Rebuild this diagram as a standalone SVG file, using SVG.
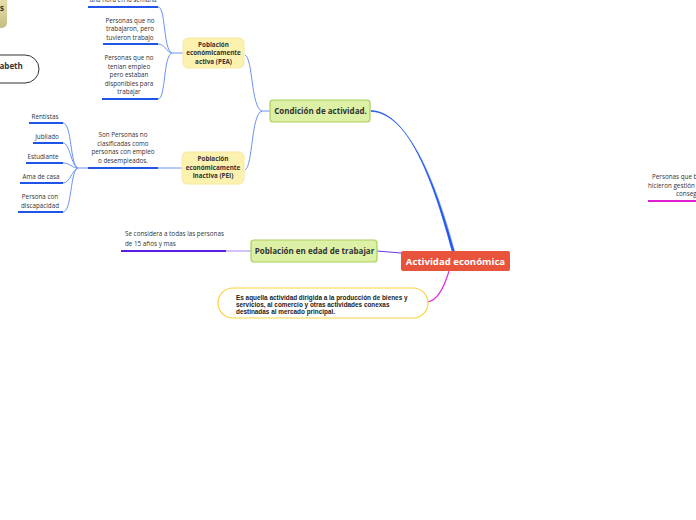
<svg xmlns="http://www.w3.org/2000/svg" width="696" height="520" viewBox="0 0 696 520">
<style>
.t{font-family:"Open Sans","Liberation Sans",sans-serif;font-size:6.3px;fill:#333;text-anchor:middle}
.tb{font-family:"Open Sans","Liberation Sans",sans-serif;font-size:6.3px;font-weight:bold;fill:#333;text-anchor:middle}
.c{fill:none;stroke:#6b93f5;stroke-width:1}
.u{fill:none;stroke:#1f55e6;stroke-width:2}
.y{fill:#fdf1b0;stroke:#f7e9a0;stroke-width:1}
.g{fill:#dcf1a6;stroke:#a9cd5e;stroke-width:1.2}
.gt{font-family:"Open Sans","Liberation Sans",sans-serif;font-weight:bold;fill:#333;text-anchor:middle}
.d{font-family:"Liberation Sans",Arial,sans-serif;font-size:6.4px;font-weight:bold;fill:#222}
</style>
<defs>
<linearGradient id="gr" x1="0" y1="0" x2="0" y2="1">
<stop offset="0" stop-color="#f0eab8"/>
<stop offset="1" stop-color="#c4bd84"/>
</linearGradient>
</defs>
<rect width="696" height="520" fill="#ffffff"/>
<g id="connectors">
<path class="c" d="M158 7 C166 7 163 50 172 53 M158 44 C165 44 166 52 172 53 M158 99 C166 99 163 56 172 53 L183 53"/>
<path class="c" d="M245 55 C253 58 251 108 262 111 L270 111 M262 111 C251 114 253 166 245 170"/>
<path class="c" d="M158 168 L182 168"/>
<path class="c" d="M63 123 C72 123 70 166 78 168 M63 143 C70 143 71 166 78 168 M63 163 C70 163 72 168 78 168 M63 183 C70 183 72 170 78 168 M63 212 C72 212 70 170 78 168 L88 168"/>
<path d="M371 110.6 C410 111.6 435.8 190 452 251 L454.4 251 C437.8 190 410.2 112.4 371 111.4 Z" fill="#2258f0" stroke="#2258f0" stroke-width="0.6" stroke-linejoin="round"/>
<path d="M226 251 L251 251" fill="none" stroke="#a583f5" stroke-width="1"/>
<path d="M377 251 L401 253" fill="none" stroke="#6a38ee" stroke-width="1.2"/>
<path d="M449 271 C444 288 438 300 428 302" fill="none" stroke="#e02de0" stroke-width="1.2"/>
</g>
<g id="n-top">
<rect x="-20" y="-10" width="27" height="38" rx="5" fill="url(#gr)"/>
<text x="0" y="11" font-family="'Open Sans','Liberation Sans',sans-serif" font-size="8" font-weight="bold" fill="#333">s</text>
</g>
<g id="n-abeth">
<rect x="-40" y="55" width="79" height="28" rx="14" fill="#fff" stroke="#333" stroke-width="1"/>
<text x="-0.5" y="68.5" font-family="'Open Sans','Liberation Sans',sans-serif" font-size="8" font-weight="bold" fill="#333">abeth</text>
</g>
<g id="n-pea">
<rect class="y" x="183" y="38" width="61" height="30" rx="5"/>
<text class="tb" x="213.5" y="46.5">Población</text>
<text class="tb" x="213.5" y="55">económicamente</text>
<text class="tb" x="213.5" y="63.5">activa (PEA)</text>
</g>
<g id="n-pea1">
<text class="t" x="123" y="2">una hora en la semana</text>
<path class="u" d="M88 7 L158 7"/>
</g>
<g id="n-pea2">
<text class="t" x="130" y="22.5">Personas que no</text>
<text class="t" x="130" y="31">trabajaron, pero</text>
<text class="t" x="130" y="39.5">tuvieron trabajo</text>
<path class="u" d="M103 44 L158 44"/>
</g>
<g id="n-pea3">
<text class="t" x="129" y="60">Personas que no</text>
<text class="t" x="129" y="68.5">tenían empleo</text>
<text class="t" x="129" y="77">pero estaban</text>
<text class="t" x="129" y="85.5">disponibles para</text>
<text class="t" x="129" y="94">trabajar</text>
<path class="u" d="M102 99 L158 99"/>
</g>
<g id="n-cond">
<rect class="g" x="270" y="100" width="100" height="22" rx="3"/>
<text class="gt" x="320.5" y="114" font-size="8">Condición de actividad.</text>
</g>
<g id="n-pei">
<rect class="y" x="182" y="152" width="62" height="32" rx="5"/>
<text class="tb" x="213" y="161">Población</text>
<text class="tb" x="213" y="169.5">económicamente</text>
<text class="tb" x="213" y="178">inactiva (PEI)</text>
</g>
<g id="n-pei1">
<text class="t" x="123" y="137">Son Personas no</text>
<text class="t" x="123" y="145.5">clasificadas como</text>
<text class="t" x="123" y="154">personas con empleo</text>
<text class="t" x="123" y="162.5">o desempleados.</text>
<path class="u" d="M88 168 L158 168"/>
</g>
<g id="n-rent">
<text class="t" x="45" y="119">Rentistas</text>
<path class="u" d="M29 123 L63 123"/>
</g>
<g id="n-jub">
<text class="t" x="47" y="139">Jubilado</text>
<path class="u" d="M33 143 L63 143"/>
</g>
<g id="n-est">
<text class="t" x="43" y="159">Estudiante</text>
<path class="u" d="M26 163 L63 163"/>
</g>
<g id="n-ama">
<text class="t" x="41" y="179">Ama de casa</text>
<path class="u" d="M20 183 L63 183"/>
</g>
<g id="n-disc">
<text class="t" x="40" y="199">Persona con</text>
<text class="t" x="40" y="207.5">discapacidad</text>
<path class="u" d="M18 212 L63 212"/>
</g>
<g id="n-edad">
<rect class="g" x="251" y="240" width="126" height="22" rx="3"/>
<text class="gt" x="314.5" y="254" font-size="8">Población en edad de trabajar</text>
</g>
<g id="n-edad1">
<text class="t" x="125" y="236" style="text-anchor:start">Se considera a todas las personas</text>
<text class="t" x="125" y="246" style="text-anchor:start">de 15 años y mas</text>
<path d="M121 251 L226 251" fill="none" stroke="#5a1fe0" stroke-width="2"/>
</g>
<g id="n-central">
<rect x="401" y="251" width="109" height="20" rx="2" fill="#e8533b"/>
<text x="455.5" y="264.5" font-family="'Open Sans','Liberation Sans',sans-serif" font-size="9.6" font-weight="bold" fill="#fff" text-anchor="middle">Actividad económica</text>
</g>
<g id="n-desc">
<rect x="218" y="288" width="210" height="30" rx="15" fill="#fff" stroke="#f7d33c" stroke-width="1.2"/>
<text class="d" x="236" y="300">Es aquella actividad  dirigida a la producción de bienes y</text>
<text class="d" x="236" y="307">servicios, al comercio y otras actividades conexas</text>
<text class="d" x="236" y="314">destinadas al mercado principal.</text>
</g>
<g id="n-right">
<text class="t" x="652" y="179" style="text-anchor:start">Personas que b</text>
<text class="t" x="648" y="187.5" style="text-anchor:start">hicieron gestión</text>
<text class="t" x="676" y="196" style="text-anchor:start">conseg</text>
<path d="M648 201 L696 201" fill="none" stroke="#e020d0" stroke-width="2"/>
</g>
</svg>
